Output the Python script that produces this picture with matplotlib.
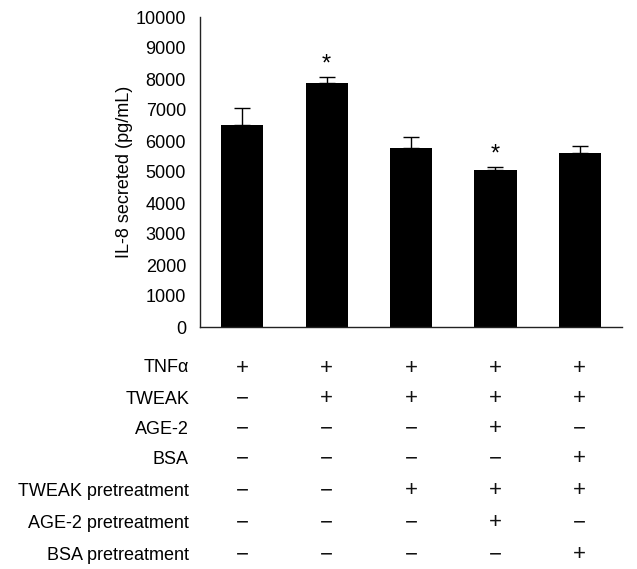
import matplotlib
matplotlib.use("Agg")
import matplotlib.pyplot as plt
import matplotlib.transforms as mtransforms

plt.rcParams['font.family'] = ['Liberation Sans', 'DejaVu Sans']

groups = [0, 1, 2, 3, 4]
means = [6510, 7860, 5780, 5050, 5620]
err_upper = [540, 220, 350, 120, 210]
significant = [False, True, False, True, False]

row_labels = ["TNF\u03b1", "TWEAK", "AGE-2", "BSA",
              "TWEAK pretreatment", "AGE-2 pretreatment", "BSA pretreatment"]
row_signs = [
    ["+", "+", "+", "+", "+"],
    ["-", "+", "+", "+", "+"],
    ["-", "-", "-", "+", "-"],
    ["-", "-", "-", "-", "+"],
    ["-", "-", "+", "+", "+"],
    ["-", "-", "-", "+", "-"],
    ["-", "-", "-", "-", "+"],
]

W, H = 637, 569
fig = plt.figure(figsize=(W / 100, H / 100), dpi=100)
ax = fig.add_axes([200 / W, 1 - 327 / H, 422 / W, 310 / H])

ax.bar(groups, means, width=0.5, color="black", zorder=2)
ax.errorbar(groups, means, yerr=[[0] * len(means), err_upper], fmt="none",
            ecolor="black", elinewidth=1, capsize=6, capthick=1, zorder=1)

for g, m, e, s in zip(groups, means, err_upper, significant):
    if s:
        ax.annotate("*", (g, m + e), xytext=(0, 1), textcoords="offset points",
                    ha="center", va="bottom", fontsize=17)

ax.set_xlim(-0.5, 4.5)
ax.set_ylim(0, 10000)
ax.set_yticks(range(0, 10001, 1000))
ax.tick_params(axis="y", length=0, labelsize=13, pad=10)
ax.set_xticks([])
for side in ["top", "right"]:
    ax.spines[side].set_visible(False)
for side in ["left", "bottom"]:
    ax.spines[side].set_color("#222222")
    ax.spines[side].set_linewidth(1)
ax.set_ylabel("IL-8 secreted (pg/mL)", fontsize=13, labelpad=2)

trans = mtransforms.blended_transform_factory(ax.transData, fig.transFigure)
row_y_px = [368, 399, 429, 459, 491, 523, 555]
for label, signs, ypx in zip(row_labels, row_signs, row_y_px):
    yf = 1 - ypx / H
    fig.text(189 / W, yf, label, ha="right", va="center", fontsize=13)
    for g, s in zip(groups, signs):
        ax.text(g, yf, "+" if s == "+" else "\u2212", transform=trans,
                ha="center", va="center", fontsize=16, color="#111111",
                clip_on=False)

fig.savefig("out.png", dpi=100)
